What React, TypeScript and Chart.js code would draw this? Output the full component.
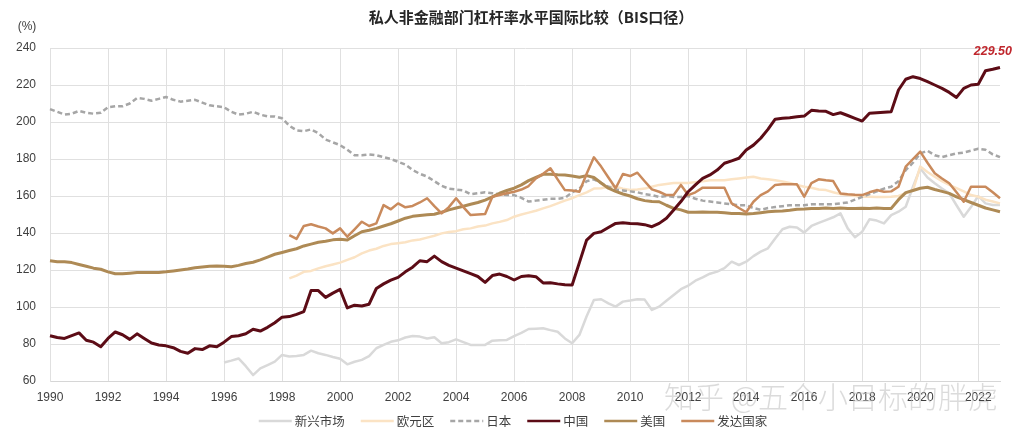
import React, { useEffect, useRef } from "react";
import { Chart, registerables } from "chart.js";

Chart.register(...registerables);

const TITLE = "私人非金融部门杠杆率水平国际比较（BIS口径）";
const UNIT = "(%)";
const WATERMARK = "知乎 @五个小目标的胖虎";
const END_LABEL = "229.50";

const FIRST_YEAR = 1990;
const LAST_YEAR = 2022;
const quarters: string[] = [];
for (let y = FIRST_YEAR; y <= LAST_YEAR; y++) for (let q = 1; q <= 4; q++) quarters.push(`${y}Q${q}`);

const tickYears = ["1990", "1992", "1994", "1996", "1998", "2000", "2002", "2004", "2006", "2008", "2010", "2012", "2014", "2016", "2018", "2020", "2022"];
const yTicks = [60, 80, 100, 120, 140, 160, 180, 200, 220, 240];

const seriesNames = ["新兴市场", "欧元区", "日本", "中国", "美国", "发达国家"];

// 新兴市场, from 1996Q1
const emergingStart = "1996Q1";
const emerging = [
  70, 71, 72.2, 68,
  63.2, 66.8, 68.6, 70.5,
  74.1, 73.2, 73.5, 74.1,
  76.4, 75, 74.1, 73,
  72, 69, 70.4, 71.4,
  73.5, 77.7, 79.5, 81.2,
  82, 83.5, 84.3, 84,
  83, 83.6, 80.4, 81,
  82.5, 81, 79.5, 79.5,
  79.5, 81.8, 82, 82.2,
  84.3, 86, 88.1, 88.3,
  88.5, 87.5, 86.6, 83,
  80.4, 84.9, 95, 103.8,
  104.2, 102, 100.2, 102.9,
  103.5, 104.2, 104, 98.4,
  100.2, 103.4, 106.5, 109.6,
  111.5, 114.2, 116, 118,
  119.1, 121, 124.5, 122.7,
  124.5, 127.5, 129.9, 131.7,
  137, 142, 143.4, 143,
  140.2, 143.8, 145.5, 147,
  148.5, 150.6, 142.5, 137.7,
  140.7, 147.4, 146.7, 145.2,
  149.7, 151.5, 154.2, 165,
  175, 170, 166.9, 164,
  161.4, 155, 148.8, 154,
  160, 156, 155.1, 155.1,
];

// 欧元区, from 1998Q2
const euroStart = "1998Q2";
const euro = [
  115.5, 117, 119,
  119.5, 120.9, 122, 123,
  124, 125.5, 126.9, 129,
  130.5, 131.5, 133, 134,
  134.5, 135, 136, 136.5,
  137.5, 138.5, 139.8, 140.5,
  141, 142, 142.5, 143.5,
  144, 145.2, 146, 147,
  148.8, 150, 151, 152,
  153.3, 154.5, 156, 157.5,
  158.8, 160.5, 162, 164,
  164.2, 165, 165, 164,
  163.2, 163.5, 164, 165,
  166, 166.5, 167, 167,
  167, 167.5, 168, 168.5,
  168.5, 168.5, 169, 169.5,
  170, 170.4, 169.5, 169,
  168.5, 167.8, 167, 166,
  165, 164.5, 163.5, 163.2,
  162, 161, 160.5, 160,
  159.6, 159.6, 159.5, 159.5,
  159.6, 160, 161.5, 163,
  175.9, 173, 170.4, 168,
  166, 164.2, 162.5, 160.5,
  159.6, 158, 157, 156,
];

// 日本, from 1990Q1
const japan = [
  207, 205.5, 204, 204.5,
  206, 205, 204.5, 205,
  208, 208.5, 208.5, 210,
  213, 212.5, 211.5, 212.5,
  213.5, 212, 211, 211.5,
  212, 210.5, 209, 208.5,
  208, 205.5, 204, 204.5,
  205.5, 204, 203, 203,
  202, 198, 195.5, 195,
  196, 194, 190.5, 189,
  187.5, 185, 182, 182,
  182.5, 182, 181, 180,
  178.5, 177, 174, 172,
  170.5, 168, 165.5, 164,
  163.5, 163, 161, 161.5,
  162, 161.5, 161, 160.5,
  160.5, 159, 157, 157.5,
  158, 158.5, 158.5, 159,
  162, 164, 168, 169,
  167, 165, 163.5, 163,
  162.5, 162, 161, 160.5,
  159.5, 160, 159.5, 159.5,
  160, 158.5, 157.5, 157,
  156.5, 156, 155.5, 155,
  155, 153.5, 152.5, 153.5,
  154, 154.5, 155, 155,
  155, 155.5, 155.5, 155.5,
  155.5, 156, 156.5, 158,
  159.5, 161, 162.5, 164,
  165, 168, 174, 178,
  183, 184.5, 182, 181,
  182, 183, 183.5, 184.5,
  185.5, 185, 182.5, 181,
];

// 中国, from 1990Q1
const china = [
  84.5, 83.5, 83, 84.5,
  86, 82, 81, 78.5,
  83, 86.5, 85, 82.5,
  85.5, 83, 80.5, 79.5,
  79, 78, 76, 75,
  77.5, 77, 79, 78.5,
  81, 84, 84.5, 85.5,
  88, 87, 89, 91.5,
  94.5, 94.8, 96, 97.5,
  108.9, 108.9, 105.2, 107.5,
  109.5, 99.5, 101, 100.5,
  101.5, 110, 112.5, 114.5,
  116, 119, 121.5, 125,
  124.5, 127.5, 124.5, 122.5,
  121, 119.5, 118, 116.5,
  113.3, 117, 117.8, 116.5,
  114.6, 116.5, 116.9, 116.4,
  113, 113.1, 112.5, 112,
  111.9, 124, 136.2, 139.8,
  140.7, 143, 145.2, 145.5,
  145.2, 145, 144.5, 143.4,
  145.2, 148, 152.4, 157,
  162.3, 166, 169.5, 171.4,
  174, 177.7, 179, 180.4,
  184.9, 187.5, 191.2, 196,
  201.5, 202, 202.3, 202.8,
  203.2, 206.3, 206, 205.8,
  204, 205, 203.5, 202,
  200.5, 204.7, 205, 205.3,
  205.6, 217.3, 223.1, 224.5,
  223.5, 221.8, 220, 218.2,
  216, 213.3, 218.2, 220,
  220.4, 227.7, 228.5, 229.5,
];

// 美国, from 1990Q1
const usa = [
  125, 124.5, 124.5, 124,
  123, 122, 121, 120.4,
  119, 118, 118, 118.3,
  118.6, 118.7, 118.7, 118.7,
  119, 119.5, 120, 120.5,
  121.2, 121.6, 122, 122.2,
  122, 121.8, 122.5, 123.5,
  124.2, 125.5, 127, 128.5,
  129.5, 130.5, 131.5, 133,
  134, 135, 135.5, 136.3,
  136.6, 136.2, 138.5, 140.7,
  141.5, 142.5, 143.8, 145,
  146.5, 148, 149, 149.5,
  149.8, 150.1, 151.2, 152.5,
  153.5, 154.5, 155.5, 156.5,
  157.8, 159.5, 161.5, 163,
  164.2, 166, 168.3, 170,
  171.7, 171.8, 171.5, 171.4,
  170.8, 170.1, 171, 170,
  167, 164.2, 162.5, 161.1,
  160, 158.5, 157.5, 157,
  156.9, 155, 153.3, 152.5,
  151.2, 151.2, 151.3, 151.2,
  151.2, 151, 150.6, 150.5,
  150.3, 150.5, 151, 151.5,
  151.7, 151.9, 152.3, 152.8,
  153, 153.3, 153.3, 153.5,
  153.3, 153.5, 153.3, 153.3,
  153.4, 153.3, 153.5, 153.3,
  153.3, 158, 161.8, 163,
  164.2, 164.7, 163.5, 162.5,
  161.4, 159.5, 158, 156.5,
  155, 153.5, 152.5, 151.5,
];

// 发达国家, from 1998Q2
const developedStart = "1998Q2";
const developed = [
  138.9, 136.8, 143.8,
  144.7, 143.5, 142.5, 139.8,
  142.5, 138, 142, 146.1,
  143.8, 145.2, 155.1, 152.8,
  156, 153.9, 154.6, 156.5,
  158.8, 154.5, 150.6, 154,
  158.8, 154, 149.7, 150,
  150.3, 159.6, 160.5, 161.5,
  162.3, 163.5, 165.4, 169.5,
  172, 175, 169, 163.2,
  163, 162.3, 172, 180.9,
  175.9, 170, 164.2, 171.9,
  170.8, 172.6, 168, 163.6,
  162.3, 160.5, 160.5, 166,
  160.5, 162, 164.5, 164.5,
  164.5, 164.5, 156, 153.5,
  151.2, 156.9, 160.5, 162.5,
  166, 166.3, 166.3, 166.3,
  159.6, 167, 169, 168.5,
  168.1, 161.4, 161, 160.7,
  160.5, 162, 163.2, 162.3,
  162.5, 165, 175.9, 180,
  184, 178, 172.3, 169.5,
  166.9, 162, 156.9, 165,
  165, 165, 162, 158.8,
];

const colors = {
  emerging: "#d9d9d9",
  euro: "#fbe3c4",
  japan: "#a6a6a6",
  china: "#5c0c16",
  usa: "#ae8a55",
  developed: "#c98a5c",
};

function pad(start: string, vals: number[]): (number | null)[] {
  const s = quarters.indexOf(start);
  return quarters.map((_, i) => (i < s ? null : vals[i - s] ?? null));
}

const FONT = "'Liberation Sans', 'Noto Sans CJK SC', sans-serif";
const CJK = "'Noto Sans CJK SC', 'Liberation Sans', sans-serif";

const overlayPlugin = {
  id: "overlay",
  afterDraw(chart: any) {
    const ctx: CanvasRenderingContext2D = chart.ctx;
    const xs = chart.scales.x;
    const ys = chart.scales.y;
    ctx.save();
    // title
    ctx.fillStyle = "#262626";
    ctx.font = `bold 15px ${CJK}`;
    ctx.textAlign = "center";
    ctx.textBaseline = "middle";
    ctx.fillText(TITLE, 531, 17);
    // unit
    ctx.fillStyle = "#404040";
    ctx.font = `12px ${FONT}`;
    ctx.fillText(UNIT, 27, 27);
    // end label for China
    const lastIdx = china.length - 1;
    const px = xs.getPixelForValue(lastIdx);
    const py = ys.getPixelForValue(china[lastIdx]);
    ctx.fillStyle = "#c0272d";
    ctx.font = `italic bold 12.5px ${FONT}`;
    ctx.textAlign = "right";
    ctx.fillText(END_LABEL, px + 12, py - 16);
    // watermark
    ctx.fillStyle = "rgba(190,190,190,0.55)";
    ctx.font = `300 30px ${CJK}`;
    ctx.textAlign = "left";
    ctx.fillText(WATERMARK, 664, 397);
    // legend
    const items = [
      { label: seriesNames[0], color: colors.emerging, dash: [] as number[] },
      { label: seriesNames[1], color: colors.euro, dash: [] as number[] },
      { label: seriesNames[2], color: colors.japan, dash: [5, 3] },
      { label: seriesNames[3], color: colors.china, dash: [] as number[] },
      { label: seriesNames[4], color: colors.usa, dash: [] as number[] },
      { label: seriesNames[5], color: colors.developed, dash: [] as number[] },
    ];
    ctx.font = `12.5px ${CJK}`;
    const lineLen = 33, gap = 3, itemGap = 16;
    const widths = items.map((it) => ctx.measureText(it.label).width);
    const total = widths.reduce((a, w) => a + lineLen + gap + w, 0) + itemGap * (items.length - 1);
    let x = 513 - total / 2;
    const ly = 421;
    items.forEach((it, k) => {
      ctx.beginPath();
      ctx.setLineDash(it.dash);
      ctx.strokeStyle = it.color;
      ctx.lineWidth = 2.5;
      ctx.moveTo(x, ly);
      ctx.lineTo(x + lineLen, ly);
      ctx.stroke();
      ctx.setLineDash([]);
      ctx.fillStyle = "#404040";
      ctx.textAlign = "left";
      ctx.fillText(it.label, x + lineLen + gap, ly);
      x += lineLen + gap + widths[k] + itemGap;
    });
    ctx.restore();
  },
};

export default function App() {
  const ref = useRef<HTMLCanvasElement | null>(null);
  useEffect(() => {
    document.body.style.margin = "0";
    if (!ref.current) return;
    const common = { pointRadius: 0, pointHoverRadius: 0, tension: 0, borderJoinStyle: "round" as const, fill: false };
    const chart = new Chart(ref.current, {
      type: "line",
      data: {
        labels: quarters,
        datasets: [
          { ...common, label: seriesNames[3], data: china, borderColor: colors.china, borderWidth: 3 },
          { ...common, label: seriesNames[5], data: pad(developedStart, developed), borderColor: colors.developed, borderWidth: 2.5 },
          { ...common, label: seriesNames[4], data: usa, borderColor: colors.usa, borderWidth: 3 },
          { ...common, label: seriesNames[2], data: japan, borderColor: colors.japan, borderWidth: 2.5, borderDash: [5, 3] },
          { ...common, label: seriesNames[1], data: pad(euroStart, euro), borderColor: colors.euro, borderWidth: 2.5 },
          { ...common, label: seriesNames[0], data: pad(emergingStart, emerging), borderColor: colors.emerging, borderWidth: 2.5 },
        ],
      },
      options: {
        responsive: false,
        animation: false,
        layout: { padding: { top: 48, right: 24, bottom: 0, left: 0 } },
        plugins: { legend: { display: false }, title: { display: false }, tooltip: { enabled: false } },
        scales: {
          x: {
            type: "category",
            offset: false,
            grid: { color: "#e0e0e0", drawTicks: false, lineWidth: 1 },
            border: { color: "#d6d6d6" },
            ticks: {
              autoSkip: false,
              maxRotation: 0,
              padding: 9,
              color: "#404040",
              font: { size: 12, family: FONT },
              callback: (_v: any, i: number) => {
                const lab = quarters[i];
                const yr = lab.slice(0, 4);
                return lab.endsWith("Q1") && tickYears.includes(yr) ? yr : null;
              },
            },
            afterFit: (s: any) => { s.height = 61; },
          },
          y: {
            min: yTicks[0],
            max: yTicks[yTicks.length - 1],
            afterBuildTicks: (s: any) => { s.ticks = yTicks.map((v) => ({ value: v })); },
            grid: { color: "#e0e0e0", drawTicks: false, lineWidth: 1 },
            border: { color: "#e0e0e0" },
            ticks: { padding: 14, color: "#404040", font: { size: 12, family: FONT } },
            afterFit: (s: any) => { s.width = 50; },
          },
        },
      },
      plugins: [overlayPlugin],
    });
    return () => chart.destroy();
  }, []);
  return (
    <div style={{ width: 1024, height: 442 }}>
      <canvas ref={ref} width={1024} height={442} />
    </div>
  );
}
